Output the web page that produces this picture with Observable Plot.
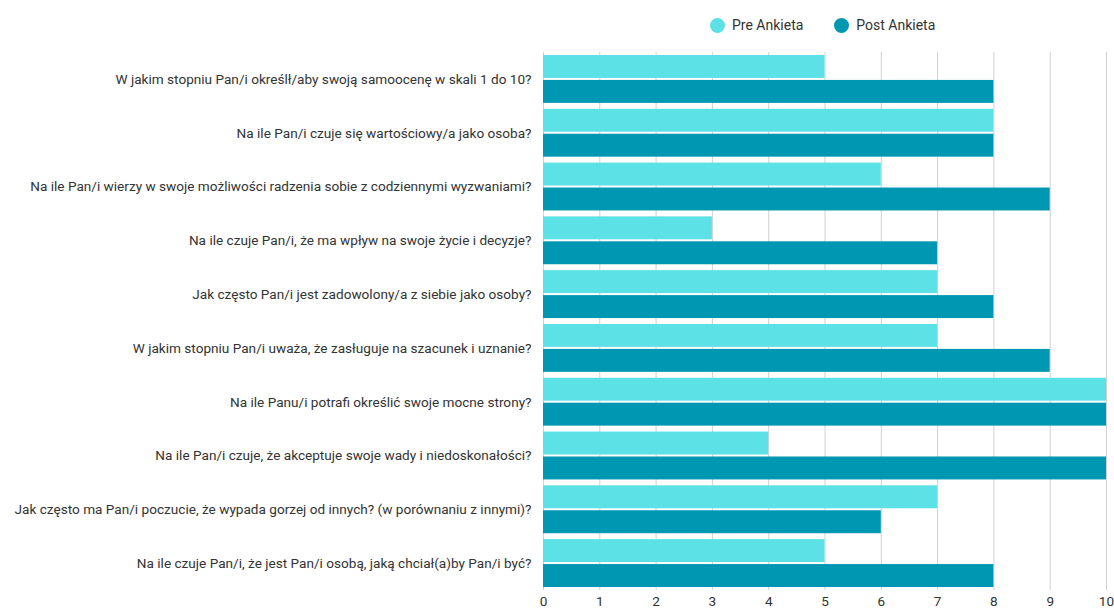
<!DOCTYPE html>
<html>
<head>
<meta charset="utf-8">
<script src="https://cdn.jsdelivr.net/npm/d3@7"></script>
<script src="https://cdn.jsdelivr.net/npm/@observablehq/plot@0.6"></script>
<style>
  body { margin: 0; background: #fff; font-family: Roboto, sans-serif; }
  #legend { height: 50px; display: flex; align-items: center; padding-left: 710px; box-sizing: border-box; font-size: 14px; color: #333; }
  .item { display: flex; align-items: center; margin-right: 31px; }
  .dot { width: 15px; height: 15px; border-radius: 50%; margin-right: 7px; }
  #chart svg { display: block; }
</style>
</head>
<body>
<div id="legend"></div>
<div id="chart"></div>
<script>
// Survey questions (top to bottom)
const questions = [
  "W jakim stopniu Pan/i określł/aby swoją samoocenę w skali 1 do 10?",
  "Na ile Pan/i czuje się wartościowy/a jako osoba?",
  "Na ile Pan/i wierzy w swoje możliwości radzenia sobie z codziennymi wyzwaniami?",
  "Na ile czuje Pan/i, że ma wpływ na swoje życie i decyzje?",
  "Jak często Pan/i jest zadowolony/a z siebie jako osoby?",
  "W jakim stopniu Pan/i uważa, że zasługuje na szacunek i uznanie?",
  "Na ile Panu/i potrafi określić swoje mocne strony?",
  "Na ile Pan/i czuje, że akceptuje swoje wady i niedoskonałości?",
  "Jak często ma Pan/i poczucie, że wypada gorzej od innych? (w porównaniu z innymi)?",
  "Na ile czuje Pan/i, że jest Pan/i osobą, jaką chciał(a)by Pan/i być?"
];
const preValues  = [5, 8, 6, 3, 7, 7, 10, 4, 7, 5];
const postValues = [8, 8, 9, 7, 8, 9, 10, 10, 6, 8];
const seriesNames = ["Pre Ankieta", "Post Ankieta"];
const seriesColors = ["#5ce1e6", "#0097b2"];
const xTicks = [0, 1, 2, 3, 4, 5, 6, 7, 8, 9, 10];

const rows = questions.flatMap((q, i) => [
  {question: q, series: seriesNames[0], value: preValues[i]},
  {question: q, series: seriesNames[1], value: postValues[i]}
]);

// Legend above the chart
const legend = d3.select("#legend");
seriesNames.forEach((name, i) => {
  const item = legend.append("div").attr("class", "item");
  item.append("div").attr("class", "dot").style("background", seriesColors[i]);
  item.append("span").text(name);
});

const chart = Plot.plot({
  width: 1114,
  height: 558,
  marginTop: 5,
  marginBottom: 21,
  marginLeft: 543,
  marginRight: 8,
  style: {fontFamily: "Roboto, sans-serif", fontSize: "13.6px", color: "#333", background: "#fff"},
  facet: {data: rows, y: "question"},
  fy: {domain: questions, paddingInner: 0.11, paddingOuter: 0, round: false, axis: "left", label: null, tickSize: 0, tickPadding: 12},
  y: {domain: seriesNames, paddingInner: 0.08, paddingOuter: 0, round: false, axis: null},
  x: {domain: [0, 10], ticks: xTicks, tickSize: 0, tickPadding: 9, label: null, axis: "bottom"},
  color: {domain: seriesNames, range: seriesColors},
  marks: [
    Plot.ruleX(xTicks, {stroke: "#d0d0d0", strokeWidth: 1, insetTop: -3, insetBottom: -3}),
    Plot.barX(rows, {x: "value", y: "series", fill: "series"})
  ]
});
document.getElementById("chart").appendChild(chart);
</script>
</body>
</html>
